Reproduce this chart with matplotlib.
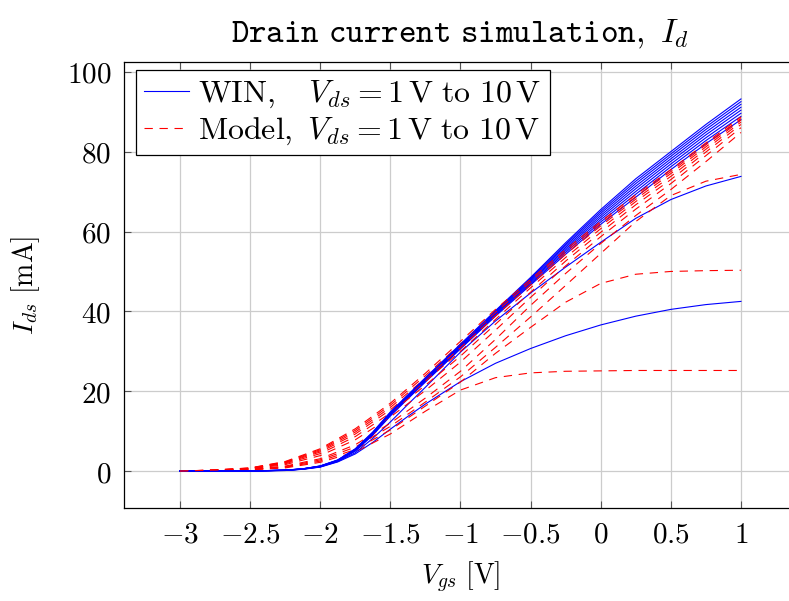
import matplotlib
matplotlib.use('Agg')
import matplotlib.pyplot as plt

plt.rcParams['mathtext.fontset'] = 'cm'

# Gate voltage sweep [V] (WIN sampled finer around the knee)
vgs_win = [-3, -2.75, -2.5, -2.25, -2.125, -2, -1.875, -1.75, -1.625, -1.5,
           -1.375, -1.25, -1, -0.75, -0.5, -0.25, 0, 0.25, 0.5, 0.75, 1]
vgs_model = [-3, -2.75, -2.5, -2.25, -2, -1.75, -1.5, -1.25, -1, -0.75,
             -0.5, -0.25, 0, 0.25, 0.5, 0.75, 1]

vds = [1, 2, 3, 4, 5, 6, 7, 8, 9, 10]

# WIN simulation, I_ds [mA], one row per Vds
win_ids = [
    [0, 0, 0.02, 0.15, 0.45, 1.00, 2.30, 4.30, 7.20, 10.50, 13.70, 16.80, 22.40, 27.00, 30.70, 33.90, 36.60, 38.80, 40.50, 41.70, 42.50],
    [0, 0, 0.02, 0.16, 0.48, 1.05, 2.40, 4.60, 8.20, 12.30, 16.70, 21.00, 29.80, 37.60, 44.60, 51.10, 57.30, 63.30, 68.00, 71.40, 73.80],
    [0, 0, 0.02, 0.20, 0.50, 1.10, 2.50, 5.00, 9.00, 13.80, 18.10, 22.30, 30.60, 38.80, 46.60, 54.30, 61.80, 68.60, 75.50, 82.00, 88.00],
    [0, 0, 0.02, 0.21, 0.51, 1.13, 2.55, 5.10, 9.13, 13.96, 18.26, 22.48, 30.79, 39.02, 46.90, 54.76, 62.39, 69.34, 76.22, 82.77, 88.83],
    [0, 0, 0.02, 0.22, 0.52, 1.16, 2.59, 5.19, 9.25, 14.11, 18.41, 22.64, 30.97, 39.23, 47.19, 55.20, 62.95, 70.03, 76.90, 83.49, 89.61],
    [0, 0, 0.02, 0.22, 0.54, 1.19, 2.64, 5.28, 9.37, 14.26, 18.56, 22.81, 31.15, 39.44, 47.47, 55.63, 63.50, 70.72, 77.57, 84.21, 90.39],
    [0, 0, 0.03, 0.23, 0.55, 1.22, 2.68, 5.36, 9.48, 14.40, 18.70, 22.96, 31.32, 39.64, 47.74, 56.04, 64.02, 71.36, 78.20, 84.88, 91.12],
    [0, 0, 0.03, 0.24, 0.56, 1.25, 2.72, 5.44, 9.59, 14.54, 18.84, 23.11, 31.49, 39.84, 48.01, 56.45, 64.54, 72.00, 78.83, 85.55, 91.85],
    [0, 0, 0.03, 0.24, 0.57, 1.27, 2.76, 5.52, 9.70, 14.67, 18.97, 23.26, 31.64, 40.02, 48.25, 56.82, 65.02, 72.60, 79.42, 86.18, 92.52],
    [0, 0, 0.03, 0.25, 0.58, 1.30, 2.80, 5.60, 9.80, 14.80, 19.10, 23.40, 31.80, 40.20, 48.50, 57.20, 65.50, 73.20, 80.00, 86.80, 93.20],
]

# Model, I_ds [mA], one row per Vds
model_ids = [
    [0, 0.10, 0.30, 0.80, 2.20, 4.80, 9.30, 15.00, 20.30, 23.40, 24.60, 25.00, 25.10, 25.20, 25.20, 25.20, 25.20],
    [0, 0.10, 0.35, 0.95, 2.50, 5.40, 10.30, 16.30, 22.30, 29.50, 36.00, 42.30, 47.00, 49.30, 50.00, 50.20, 50.30],
    [0, 0.12, 0.40, 1.10, 2.80, 6.00, 11.20, 17.30, 23.60, 31.00, 38.60, 46.50, 54.50, 62.50, 69.00, 72.60, 74.30],
    [0, 0.14, 0.45, 1.25, 3.10, 6.60, 12.00, 18.30, 25.00, 33.00, 41.50, 49.50, 57.00, 64.00, 70.50, 77.50, 84.80],
    [0, 0.19, 0.56, 1.61, 3.88, 7.84, 13.55, 20.20, 27.30, 35.30, 43.50, 51.40, 58.70, 65.60, 72.00, 79.00, 86.00],
    [0, 0.22, 0.63, 1.84, 4.38, 8.64, 14.55, 21.50, 28.80, 36.80, 44.80, 52.60, 59.80, 66.70, 73.00, 79.90, 86.80],
    [0, 0.25, 0.68, 2.02, 4.78, 9.28, 15.35, 22.50, 30.00, 38.00, 45.90, 53.50, 60.70, 67.50, 73.80, 80.60, 87.40],
    [0, 0.27, 0.73, 2.16, 5.08, 9.76, 15.95, 23.20, 30.90, 38.90, 46.60, 54.30, 61.40, 68.10, 74.50, 81.20, 87.90],
    [0, 0.28, 0.77, 2.29, 5.35, 10.20, 16.50, 23.90, 31.80, 39.80, 47.40, 54.90, 62.00, 68.70, 75.00, 81.70, 88.30],
    [0, 0.30, 0.80, 2.40, 5.60, 10.60, 17.00, 24.50, 32.50, 40.50, 48.00, 55.50, 62.50, 69.20, 75.50, 82.20, 88.70],
]

xticks = [-3, -2.5, -2, -1.5, -1, -0.5, 0, 0.5, 1]
yticks = [0, 20, 40, 60, 80, 100]


def tick_label(v):
    return f'${v:g}$'


fig = plt.figure(figsize=(7.89, 6.01), dpi=100)
ax = fig.add_axes([0.157, 0.1542, 0.8532, 0.7431])

for i, v in enumerate(vds):
    ax.plot(vgs_win, win_ids[i], color='blue', lw=0.8,
            label=r'$\mathrm{WIN,}\quad V_{ds}=1\,\mathrm{V\ to\ }10\,\mathrm{V}$' if i == 0 else None)
    ax.plot(vgs_model, model_ids[i], color='red', lw=0.8, dashes=(7.5, 6),
            label=r'$\mathrm{Model,}\ V_{ds}=1\,\mathrm{V\ to\ }10\,\mathrm{V}$' if i == 0 else None)

ax.set_xlim(-3.4, 1.4)
ax.set_ylim(-9.32, 102.52)
ax.set_xticks(xticks)
ax.set_xticklabels([tick_label(v) for v in xticks])
ax.set_yticks(yticks)
ax.set_yticklabels([tick_label(v) for v in yticks])

ax.grid(True, color='#cccccc', lw=0.9)
ax.set_axisbelow(True)
ax.tick_params(direction='in', length=5, width=0.8, color='#555555',
               top=True, right=True, labelsize=21, pad=9)
for sp in ax.spines.values():
    sp.set_linewidth(0.9)
ax.spines['right'].set_visible(False)

ax.set_xlabel(r'$V_{gs}\ [\mathrm{V}]$', fontsize=20, labelpad=8)
ax.set_ylabel(r'$I_{ds}\ [\mathrm{mA}]$', fontsize=20, labelpad=18)
ax.set_title(r'$\mathtt{Drain\ current\ simulation,}\ I_d$', fontsize=24, pad=14)

leg = ax.legend(loc='upper left', bbox_to_anchor=(0.018, 0.981), borderaxespad=0,
                fontsize=23, frameon=True, fancybox=False, framealpha=1,
                edgecolor='black', handlelength=1.4, handletextpad=0.3,
                borderpad=0.25, labelspacing=0.15)
leg.get_frame().set_linewidth(0.9)

fig.savefig('out.png', dpi=100)
